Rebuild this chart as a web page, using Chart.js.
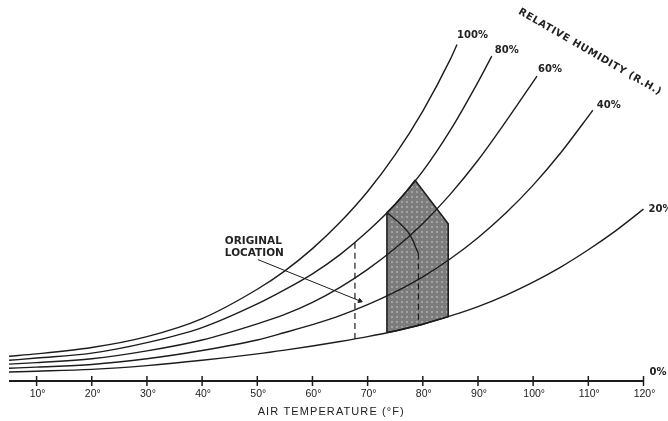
<!DOCTYPE html>
<html>
<head>
<meta charset="utf-8">
<script src="https://cdn.jsdelivr.net/npm/chart.js@4.4.1/dist/chart.umd.min.js"></script>
<style>
  html, body { margin: 0; padding: 0; background: #fff; }
  #wrap { width: 668px; height: 421px; position: relative; }
</style>
</head>
<body>
<div id="wrap"><canvas id="chart"></canvas></div>
<script>
// Relative humidity curves: [air temperature (°F), vapour level (relative units)]
const rh100 = [[5,6.6],[10,7.2],[20,8.9],[30,11.8],[40,16.6],[50,24.4],[55,29.3],[60,35.2],[65,42.2],[70,50.4],[75,60.2],[80,71.8],[85,85.6],[86.2,89.5]];
const rh80 = [[5,5.5],[10,6.1],[20,7.4],[30,10.2],[40,14.2],[50,20.5],[55,24.3],[60,28.5],[65,33.6],[70,39.8],[75,47.0],[80,55.8],[85,66.7],[90,79.5],[92.5,86.4]];
const rh60 = [[5,4.5],[10,4.9],[20,5.9],[30,8.0],[40,10.9],[50,15.2],[55,17.7],[60,20.9],[65,24.9],[70,29.7],[75,35.3],[80,41.9],[85,49.7],[90,58.7],[95,68.9],[100.7,81.1]];
const rh40 = [[5,3.4],[10,3.7],[20,4.4],[30,5.9],[40,8.1],[50,10.9],[55,12.9],[60,15.0],[65,17.4],[70,20.3],[75,23.7],[80,27.7],[85,32.5],[90,38.1],[95,44.6],[100,52.1],[105,60.7],[110,70.4],[110.8,72.0]];
const rh20 = [[5,2.4],[10,2.6],[20,3.1],[30,4.1],[40,5.5],[50,7.2],[55,8.2],[60,9.3],[65,10.5],[70,11.8],[75,13.3],[80,15.1],[85,17.3],[90,19.8],[95,22.8],[100,26.3],[105,30.3],[110,34.9],[115,40.0],[120,45.7]];
const rh0 = [[5,0],[120,0]];
const rhLabels = ['100%', '80%', '60%', '40%', '20%', '0%'];

// Shaded comfort zone (new location) and the original location outline
const zoneNew = [[73.5,12.9],[73.5,44.8],[75,47.0],[77,50.4],[78.6,53.4],[84.6,41.8],[84.6,17.1],[80,15.1],[75,13.3],[73.5,12.9]];
const zoneOldLeft = [[67.7,11.2],[67.7,37.0]];
const zoneOldTop = [[73.5,44.8],[75.9,41.8],[77.7,38.8],[79.2,33.9]];
const zoneOldRight = [[79.2,33.9],[79.2,14.9]];
const leader = [[50.1,32.3],[68.6,21.3]];

// Axis ticks
const tickTemps = [10, 20, 30, 40, 50, 60, 70, 80, 90, 100, 110, 120];
const tickLabels = tickTemps.map(t => t + '°');

const ink = '#1c1c1c';
const canvas = document.getElementById('chart');

function pts(arr) {
  return arr.map(p => ({ x: p[0], y: p[1] }));
}

function curve(arr, extra) {
  return Object.assign({
    data: pts(arr),
    showLine: true,
    borderColor: ink,
    borderWidth: 1.4,
    pointRadius: 0,
    cubicInterpolationMode: 'monotone',
    fill: false,
    clip: false
  }, extra || {});
}

// stippled grey fill like the printed screen tone
function stipple() {
  const c = document.createElement('canvas');
  c.width = 5; c.height = 5;
  const g = c.getContext('2d');
  g.fillStyle = '#7c7c7c';
  g.fillRect(0, 0, 5, 5);
  g.fillStyle = '#a3a3a3';
  g.fillRect(1, 1, 2, 2);
  return canvas.getContext('2d').createPattern(c, 'repeat');
}

// draws axis ticks, labels and the curve captions through the chart scales
const labelsPlugin = {
  id: 'labels',
  afterDatasetsDraw(chart) {
    const ctx = chart.ctx;
    const xs = chart.scales.x, ys = chart.scales.y;
    const yAxis = ys.getPixelForValue(0);
    ctx.save();
    ctx.strokeStyle = ink;
    ctx.fillStyle = '#222';
    ctx.lineWidth = 1.5;
    tickTemps.forEach((t, i) => {
      const x = xs.getPixelForValue(t);
      ctx.beginPath();
      ctx.moveTo(x, yAxis - 5);
      ctx.lineTo(x, yAxis + 5);
      ctx.stroke();
      ctx.font = '10.5px "Liberation Sans"';
      ctx.textAlign = 'center';
      ctx.textBaseline = 'middle';
      ctx.fillText(tickLabels[i], x + 1, yAxis + 13);
    });

    ctx.font = '11px "Liberation Sans"';
    ctx.letterSpacing = '1.1px';
    ctx.textAlign = 'center';
    ctx.fillText('AIR TEMPERATURE (°F)', (xs.left + xs.right) / 2 + 5, yAxis + 31);
    ctx.letterSpacing = '0px';

    // curve captions at the end of each curve
    const ends = [rh100, rh80, rh60, rh40, rh20, rh0].map(a => a[a.length - 1]);
    const offs = [[0, -9], [3, -6], [1, -7], [4, -5], [5, 0], [6, -9]];
    ctx.font = 'bold 10px "DejaVu Sans"';
    ctx.textAlign = 'left';
    ends.forEach((p, i) => {
      const x = xs.getPixelForValue(p[0]) + offs[i][0];
      const y = ys.getPixelForValue(p[1]) + offs[i][1];
      ctx.fillText(rhLabels[i], x, y);
    });

    ctx.save();
    ctx.translate(590, 52);
    ctx.rotate(30 * Math.PI / 180);
    ctx.textAlign = 'center';
    ctx.font = 'bold 10px "DejaVu Sans"';
    ctx.letterSpacing = '0.6px';
    ctx.fillText('RELATIVE HUMIDITY (R.H.)', 0, 0);
    ctx.restore();

    ctx.font = 'bold 10.5px "DejaVu Sans"';
    ctx.textAlign = 'left';
    const lx = xs.getPixelForValue(leader[0][0]) - 33;
    const ly = ys.getPixelForValue(leader[0][1]);
    ctx.fillText('ORIGINAL', lx, ly - 18);
    ctx.fillText('LOCATION', lx, ly - 6);
    ctx.restore();
  }
};

new Chart(canvas, {
  type: 'scatter',
  data: {
    datasets: [
      curve(rh100),
      curve(rh80),
      curve(rh60),
      curve(rh40),
      curve(rh20),
      curve(rh0, { borderWidth: 1.8 }),
      curve(zoneOldLeft, { borderDash: [6, 4], borderWidth: 1.2 }),
      curve(zoneOldTop, { cubicInterpolationMode: 'default', tension: 0.3 }),
      curve(zoneOldRight, { borderDash: [6, 4], borderWidth: 1.2 }),
      curve(leader, {
        borderWidth: 1,
        pointRadius: [0, 2.5],
        pointStyle: 'triangle',
        rotation: 112,
        pointBackgroundColor: ink,
        pointBorderColor: ink
      }),
      curve(zoneNew, {
        cubicInterpolationMode: 'default',
        tension: 0,
        borderWidth: 1.6,
        backgroundColor: stipple(),
        fill: 'shape',
        order: 5
      })
    ]
  },
  options: {
    responsive: true,
    maintainAspectRatio: false,
    animation: false,
    layout: { padding: { left: 9, right: 24.5, top: 0, bottom: 40 } },
    scales: {
      x: { type: 'linear', min: 5, max: 120, display: false },
      y: { type: 'linear', min: 0, max: 100, display: false }
    },
    plugins: {
      legend: { display: false },
      tooltip: { enabled: false }
    }
  },
  plugins: [labelsPlugin]
});
</script>
</body>
</html>
